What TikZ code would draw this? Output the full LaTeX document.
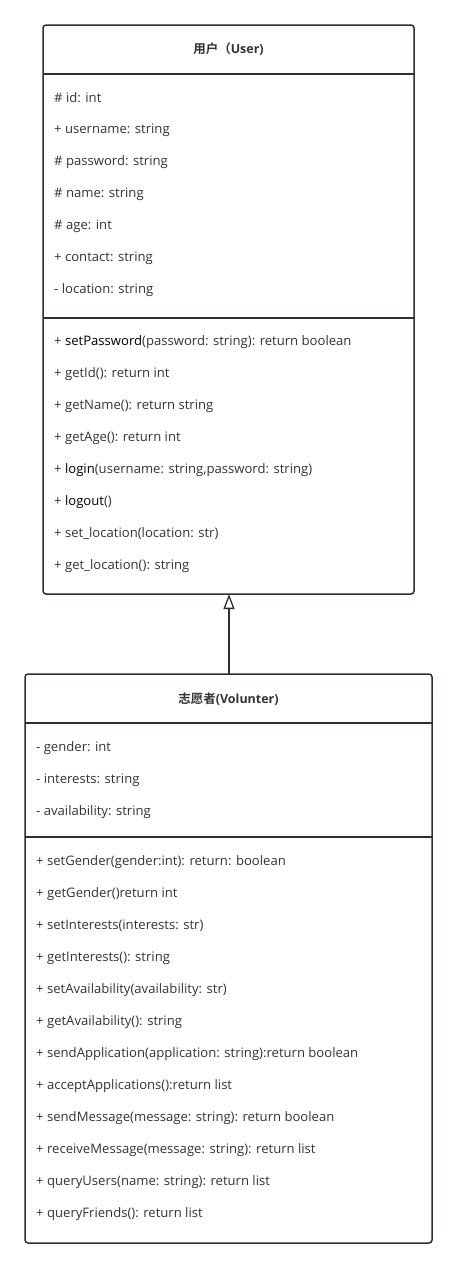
\documentclass[tikz,border=0pt]{standalone}
\usepackage{fontspec}
\setmainfont{Open Sans}
\newfontfamily\cjk{Noto Sans CJK SC}[BoldFont=* Bold]
\usetikzlibrary{arrows.meta}
\definecolor{edge}{HTML}{2B2F36}
\definecolor{txt}{HTML}{333333}
\tikzset{
  x=1pt,y=-1pt,
  classbox/.style={draw=edge,line width=1.5pt,rounded corners=3pt,fill=white},
  sepline/.style={draw=edge,line width=1.5pt},
  member/.style={anchor=west,inner sep=0pt,font=\fontsize{13.1}{15}\selectfont,text=txt},
  titletext/.style={anchor=center,inner sep=0pt,font=\fontsize{12.5}{14}\selectfont\bfseries,text=txt},
  inherit/.style={draw=edge,line width=1.5pt,-{Triangle[open,length=15pt,width=11pt,line width=1.3pt]}}
}
\begin{document}
\begin{tikzpicture}
\useasboundingbox (0,0) rectangle (458,1269);
% User class
\draw[classbox] (43,25) rectangle (414,594);
\draw[sepline] (43,74) -- (414,74);
\draw[sepline] (43,318) -- (414,318);
\node[titletext] (ut) at (228.5,49.5) {{\cjk\bfseries 用户（}User)};
\node[member] (u1) at (54,98) {\# id: int};
\node[member] (u2) at (54,130) {+ username: string};
\node[member] (u3) at (54,162) {\# password: string};
\node[member] (u4) at (54,194) {\# name: string};
\node[member] (u5) at (54,226) {\# age: int};
\node[member] (u6) at (54,258) {+ contact: string};
\node[member] (u7) at (54,290) {- location: string};
\node[member] (m1) at (54,342) {+ \textcolor{black}{setPassword}(password: string): return boolean};
\node[member] (m2) at (54,374) {+ getId(): return int};
\node[member] (m3) at (54,406) {+ getName(): return string};
\node[member] (m4) at (54,438) {+ getAge(): return int};
\node[member] (m5) at (54,470) {+ \textcolor{black}{login}(username: string,password: string)};
\node[member] (m6) at (54,502) {+ \textcolor{black}{logout}()};
\node[member] (m7) at (54,534) {+ set\_location(location: str)};
\node[member] (m8) at (54,566) {+ get\_location(): string};
\coordinate (ubot) at (229,594);
% Volunteer class
\draw[classbox] (25,674) rectangle (432,1243);
\draw[sepline] (25,723) -- (432,723);
\draw[sepline] (25,837) -- (432,837);
\coordinate (vtop) at (229,674);
\node[titletext] (vt) at (228.5,699) {{\cjk\bfseries 志愿者}(Volunter)};
\node[member] (a1) at (36,748) {- gender: int};
\node[member] (a2) at (36,780) {- interests: string};
\node[member] (a3) at (36,812) {- availability: string};
\node[member] (b1) at (36,862) {+ setGender(gender:int): return: boolean};
\node[member] (b2) at (36,894) {+ getGender()return int};
\node[member] (b3) at (36,926) {+ setInterests(interests: str)};
\node[member] (b4) at (36,958) {+ getInterests(): string};
\node[member] (b5) at (36,990) {+ setAvailability(availability: str)};
\node[member] (b6) at (36,1022) {+ getAvailability(): string};
\node[member] (b7) at (36,1054) {+ sendApplication(application: string):return boolean};
\node[member] (b8) at (36,1086) {+ acceptApplications():return list};
\node[member] (b9) at (36,1118) {+ sendMessage(message: string): return boolean};
\node[member] (b10) at (36,1150) {+ receiveMessage(message: string): return list};
\node[member] (b11) at (36,1182) {+ queryUsers(name: string): return list};
\node[member] (b12) at (36,1214) {+ queryFriends(): return list};
% inheritance
\draw[inherit] (vtop) -- (ubot);
\end{tikzpicture}
\end{document}
